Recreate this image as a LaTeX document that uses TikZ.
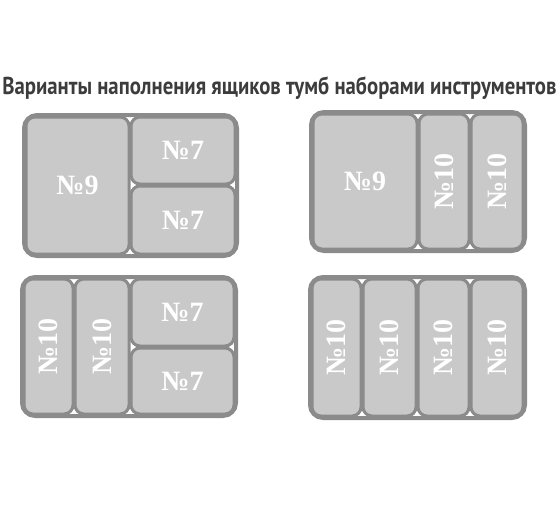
\documentclass[tikz,border=0pt]{standalone}
\usepackage{fontspec}
\setmainfont{Liberation Serif}
\newfontfamily\titlefont[FakeStretch=0.85]{PT Sans}
\usepackage{tikz}
\usetikzlibrary{positioning}
\definecolor{framegray}{HTML}{8B8B8B}
\definecolor{cellgray}{HTML}{C9C9C9}
\definecolor{titlegray}{HTML}{3C3C3C}

\begin{document}
\begin{tikzpicture}[x=1pt, y=-1pt,
    frame/.style={draw=framegray, fill=white, line width=4pt,
      rounded corners=13pt, inner sep=0pt},
    cell/.style={draw=framegray, fill=cellgray, line width=3pt,
      rounded corners=9pt, inner sep=0pt, text=white,
      font=\fontsize{28}{28}\selectfont\bfseries},
    vcell/.style={cell, rotate=90}
  ]
  \useasboundingbox (0,0) rectangle (560,504);

  % title
  \node[text=titlegray, font=\titlefont\fontsize{24.4}{24.4}\selectfont\bfseries]
    (title) at (279.5,88) {Варианты наполнения ящиков тумб наборами инструментов};

  % drawer 1: 9 + 7 + 7
  \node[frame, minimum width=213, minimum height=141] (d1) at (130.5,185.5) {};
  \node[cell, minimum width=103, minimum height=137] (d1a) at (77.5,185.5) {№9};
  \node[cell, minimum width=104, minimum height=67] (d1b) at (183,150.5) {№7};
  \node[cell, minimum width=104, minimum height=68] (d1c) at (183,220) {№7};

  % drawer 2: 9 + 10 + 10
  \node[frame, minimum width=214, minimum height=139] (d2) at (418,181.5) {};
  \node[cell, minimum width=104, minimum height=135] (d2a) at (365,181.5) {№9};
  \node[vcell, minimum width=135, minimum height=50] (d2b) at (444,181.5) {№10};
  \node[vcell, minimum width=135, minimum height=52] (d2c) at (497,181.5) {№10};

  % drawer 3: 10 + 10 + 7 + 7
  \node[frame, minimum width=214, minimum height=139] (d3) at (129,346.5) {};
  \node[vcell, minimum width=135, minimum height=49] (d3a) at (48.5,346.5) {№10};
  \node[vcell, minimum width=135, minimum height=54] (d3b) at (102,346.5) {№10};
  \node[cell, minimum width=103, minimum height=67] (d3c) at (182.5,312.5) {№7};
  \node[cell, minimum width=103, minimum height=66] (d3d) at (182.5,381) {№7};

  % drawer 4: 4 x 10
  \node[frame, minimum width=215, minimum height=141] (d4) at (417.5,347.5) {};
  \node[vcell, minimum width=137, minimum height=49] (d4a) at (336.5,347.5) {№10};
  \node[vcell, minimum width=137, minimum height=53] (d4b) at (389.5,347.5) {№10};
  \node[vcell, minimum width=137, minimum height=51] (d4c) at (443.5,347.5) {№10};
  \node[vcell, minimum width=137, minimum height=52] (d4d) at (497,347.5) {№10};
\end{tikzpicture}
\end{document}
